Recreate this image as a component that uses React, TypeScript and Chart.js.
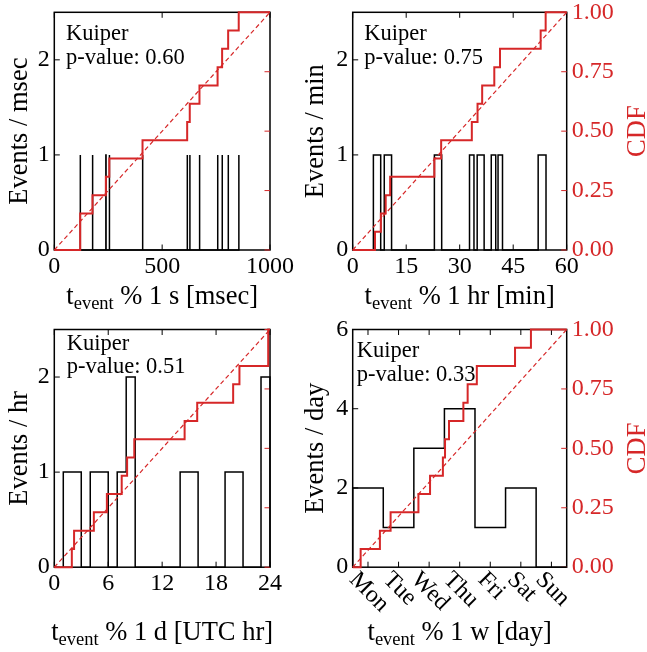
import React, { useEffect, useRef } from 'react';
import { Chart, registerables } from 'chart.js';
Chart.register(...registerables);

const FIG_W = 647;
const FIG_H = 652;
const RED = '#d62728';
const BLACK = '#000000';
const FONT = '"Liberation Serif", "Times New Roman", Times, serif';
const TICK_SIZE = 24;
const LABEL_SIZE = 26.5;
const NOTE_SIZE = 22.5;

// ---- Panel 1: t_event % 1 s [msec]
const msecEvents = [120, 120, 177, 239, 255, 409, 616, 628, 673, 757, 778, 806, 855];
const msecBinStart = [120, 177, 239, 255, 409, 616, 628, 673, 757, 778, 806, 855];
const msecBinEnd = [121, 178, 240, 256, 410, 617, 629, 674, 758, 779, 807, 856];
const msecBinCount = [1, 1, 1, 1, 1, 1, 1, 1, 1, 1, 1, 1];
const msecTicks = [0, 500, 1000];

// ---- Panel 2: t_event % 1 hr [min]
const minEvents = [6.25, 7.9, 9.25, 10.5, 22.9, 24.8, 33.4, 35.0, 36.3, 39.7, 41.3, 52.7, 54.1];
const minBinStart = [5.8, 8.85, 22.9, 32.75, 34.9, 38.85, 40.75, 52.0];
const minBinEnd = [7.85, 10.9, 24.95, 34.0, 36.85, 40.1, 42.0, 54.2];
const minBinCount = [1, 1, 1, 1, 1, 1, 1, 1];
const minTicks = [0, 15, 30, 45, 60];

// ---- Panel 3: t_event % 1 d [UTC hr]
const hrEvents = [1.95, 2.2, 4.4, 5.85, 7.5, 8.1, 8.9, 14.5, 15.9, 19.9, 20.6, 23.8, 23.8];
const hrBinStart = [1, 2, 4, 5, 7, 8, 14, 15, 19, 20, 23];
const hrBinEnd = [2, 3, 5, 6, 8, 9, 15, 16, 20, 21, 24];
const hrBinCount = [1, 1, 1, 1, 1, 2, 1, 1, 1, 1, 2];
const hrTicks = [0, 6, 12, 18, 24];

// ---- Panel 4: t_event % 1 w [day]
const dayEvents = [0.26, 0.89, 1.24, 2.15, 2.53, 2.95, 3.02, 3.15, 3.62, 3.76, 4.06, 5.31, 5.83];
const dayBinStart = [0, 1, 2, 3, 4, 5, 6];
const dayBinEnd = [1, 2, 3, 4, 5, 6, 7];
const dayBinCount = [2, 1, 3, 4, 1, 2, 0];
const dayTickPos = [0.5, 1.5, 2.5, 3.5, 4.5, 5.5, 6.5];
const dayLabels = ['Mon', 'Tue', 'Wed', 'Thu', 'Fri', 'Sat', 'Sun'];

const countTicks = [0, 1, 2];
const dayCountTicks = [0, 2, 4, 6];
const cdfTicks = [0, 0.25, 0.5, 0.75, 1];
const pValues = ['0.60', '0.75', '0.51', '0.33'];

type Area = { l: number; t: number; r: number; b: number };
type Panel = {
  area: Area;
  xMax: number;
  xTicks: number[];
  xLabels: boolean;
  yMax: number;
  yTicks: number[];
  cdfLabels: boolean;
  events: number[];
  binStart: number[];
  binEnd: number[];
  binCount: number[];
  yTitle: string;
  yTitleX: number;
  xTail: string;
  xBaseline: number;
  note: { x: number; y1: number; y2: number; p: string };
  weekdays?: string[];
};

const panels: Panel[] = [
  {
    area: { l: 54.3, t: 12.3, r: 270, b: 250 },
    xMax: 1000, xTicks: msecTicks, xLabels: true, yMax: 2.5, yTicks: countTicks, cdfLabels: false,
    events: msecEvents, binStart: msecBinStart, binEnd: msecBinEnd, binCount: msecBinCount,
    yTitle: 'Events / msec', yTitleX: 26.5, xTail: ' % 1 s [msec]', xBaseline: 304,
    note: { x: 66, y1: 39.5, y2: 63.5, p: pValues[0] },
  },
  {
    area: { l: 352.7, t: 12.3, r: 566.7, b: 250 },
    xMax: 60, xTicks: minTicks, xLabels: true, yMax: 2.5, yTicks: countTicks, cdfLabels: true,
    events: minEvents, binStart: minBinStart, binEnd: minBinEnd, binCount: minBinCount,
    yTitle: 'Events / min', yTitleX: 322.5, xTail: ' % 1 hr [min]', xBaseline: 304,
    note: { x: 364.3, y1: 39.5, y2: 63.5, p: pValues[1] },
  },
  {
    area: { l: 54.3, t: 329.5, r: 270, b: 567.2 },
    xMax: 24, xTicks: hrTicks, xLabels: true, yMax: 2.5, yTicks: countTicks, cdfLabels: false,
    events: hrEvents, binStart: hrBinStart, binEnd: hrBinEnd, binCount: hrBinCount,
    yTitle: 'Events / hr', yTitleX: 26.5, xTail: ' % 1 d [UTC hr]', xBaseline: 640,
    note: { x: 66.7, y1: 350, y2: 373, p: pValues[2] },
  },
  {
    area: { l: 352.7, t: 329.5, r: 566.7, b: 567.2 },
    xMax: 7, xTicks: dayTickPos, xLabels: false, yMax: 6, yTicks: dayCountTicks, cdfLabels: true,
    events: dayEvents, binStart: dayBinStart, binEnd: dayBinEnd, binCount: dayBinCount,
    yTitle: 'Events / day', yTitleX: 322.5, xTail: ' % 1 w [day]', xBaseline: 640,
    note: { x: 356.7, y1: 357.3, y2: 380.5, p: pValues[3] },
    weekdays: dayLabels,
  },
];

function histOutline(start: number[], end: number[], count: number[]) {
  const pts: { x: number; y: number }[] = [];
  let prevEnd: number | null = null;
  for (let i = 0; i < start.length; i++) {
    if (prevEnd === null) pts.push({ x: start[i], y: 0 });
    else if (start[i] !== prevEnd) {
      pts.push({ x: prevEnd, y: 0 });
      pts.push({ x: start[i], y: 0 });
    }
    pts.push({ x: start[i], y: count[i] });
    pts.push({ x: end[i], y: count[i] });
    prevEnd = end[i];
  }
  if (prevEnd !== null) pts.push({ x: prevEnd, y: 0 });
  return pts;
}

function ecdf(events: number[], xMax: number) {
  const n = events.length;
  const pts: { x: number; y: number }[] = [{ x: 0, y: 0 }];
  events.forEach((e, i) => {
    pts.push({ x: e, y: i / n });
    pts.push({ x: e, y: (i + 1) / n });
  });
  pts.push({ x: xMax, y: 1 });
  return pts;
}

const YW = 40;
const XH = 40;
const Y1W = 60;

function drawXTitle(ctx: CanvasRenderingContext2D, cx: number, baseline: number, tail: string) {
  const big = `${LABEL_SIZE}px ${FONT}`;
  const small = `${(LABEL_SIZE * 0.7).toFixed(1)}px ${FONT}`;
  ctx.font = big;
  const w1 = ctx.measureText('t').width;
  const w3 = ctx.measureText(tail).width;
  ctx.font = small;
  const w2 = ctx.measureText('event').width;
  let x = cx - (w1 + w2 + w3) / 2;
  ctx.textAlign = 'left';
  ctx.textBaseline = 'alphabetic';
  ctx.fillStyle = BLACK;
  ctx.font = big;
  ctx.fillText('t', x, baseline);
  x += w1;
  ctx.font = small;
  ctx.fillText('event', x, baseline + 5);
  x += w2;
  ctx.font = big;
  ctx.fillText(tail, x, baseline);
}

function drawRotated(ctx: CanvasRenderingContext2D, text: string, x: number, y: number, angle: number, color: string, size: number, baseline: CanvasTextBaseline) {
  ctx.save();
  ctx.translate(x, y);
  ctx.rotate(angle);
  ctx.font = `${size}px ${FONT}`;
  ctx.fillStyle = color;
  ctx.textAlign = 'center';
  ctx.textBaseline = baseline;
  ctx.fillText(text, 0, 0);
  ctx.restore();
}

function makePlugin(p: Panel) {
  return {
    id: 'panelDecor',
    beforeDatasetsDraw(chart: any) {
      const { ctx, chartArea: a, scales } = chart;
      const TL = 5.5;
      ctx.save();
      ctx.strokeStyle = BLACK;
      ctx.lineWidth = 1.5;
      ctx.strokeRect(a.left, a.top, a.right - a.left, a.bottom - a.top);
      ctx.lineWidth = 1;
      ctx.beginPath();
      for (const v of p.xTicks) {
        const px = scales.x.getPixelForValue(v);
        ctx.moveTo(px, a.bottom);
        ctx.lineTo(px, a.bottom - TL);
        ctx.moveTo(px, a.top);
        ctx.lineTo(px, a.top + TL);
      }
      for (const v of p.yTicks) {
        const py = scales.y.getPixelForValue(v);
        ctx.moveTo(a.left, py);
        ctx.lineTo(a.left + TL, py);
      }
      ctx.stroke();
      ctx.strokeStyle = RED;
      ctx.beginPath();
      for (const v of cdfTicks) {
        const py = scales.y1.getPixelForValue(v);
        ctx.moveTo(a.right, py);
        ctx.lineTo(a.right - TL, py);
      }
      ctx.stroke();
      ctx.restore();
    },
    afterDatasetsDraw(chart: any) {
      const { ctx, chartArea: a, scales } = chart;
      ctx.save();
      ctx.font = `${NOTE_SIZE}px ${FONT}`;
      ctx.fillStyle = BLACK;
      ctx.textAlign = 'left';
      ctx.textBaseline = 'alphabetic';
      ctx.fillText('Kuiper', p.note.x, p.note.y1);
      ctx.fillText(`p-value: ${p.note.p}`, p.note.x, p.note.y2);
      const cy = (a.top + a.bottom) / 2;
      drawRotated(ctx, p.yTitle, p.yTitleX, cy, -Math.PI / 2, BLACK, LABEL_SIZE, 'alphabetic');
      if (p.cdfLabels) drawRotated(ctx, 'CDF', 645, cy, -Math.PI / 2, RED, LABEL_SIZE, 'alphabetic');
      drawXTitle(ctx, (a.left + a.right) / 2, p.xBaseline, p.xTail);
      if (p.weekdays) {
        ctx.font = `${TICK_SIZE}px ${FONT}`;
        p.weekdays.forEach((lab, i) => {
          const w = ctx.measureText(lab).width;
          const half = (w + 0.7 * TICK_SIZE) * 0.7071 / 2;
          const px = scales.x.getPixelForValue(p.xTicks[i]);
          drawRotated(ctx, lab, px + 1, a.bottom + 3 + half, Math.PI / 4, BLACK, TICK_SIZE, 'middle');
        });
      }
      ctx.restore();
    },
  };
}

function zeroPad(s: any) {
  s.paddingLeft = 0;
  s.paddingRight = 0;
  s.paddingTop = 0;
  s.paddingBottom = 0;
}

function makeConfig(p: Panel): any {
  const fontTick = { family: FONT, size: TICK_SIZE };
  return {
    type: 'scatter',
    data: {
      datasets: [
        {
          data: ecdf(p.events, p.xMax),
          yAxisID: 'y1',
          showLine: true,
          borderColor: RED,
          borderWidth: 2,
          pointRadius: 0,
          tension: 0,
          fill: false,
          clip: false,
          order: 0,
        },
        {
          data: [{ x: 0, y: 0 }, { x: p.xMax, y: 1 }],
          yAxisID: 'y1',
          showLine: true,
          borderColor: RED,
          borderWidth: 1.2,
          borderDash: [4.5, 3],
          pointRadius: 0,
          fill: false,
          clip: false,
          order: 1,
        },
        {
          data: histOutline(p.binStart, p.binEnd, p.binCount),
          yAxisID: 'y',
          showLine: true,
          borderColor: BLACK,
          borderWidth: 1.5,
          pointRadius: 0,
          tension: 0,
          fill: false,
          clip: false,
          order: 2,
        },
      ],
    },
    options: {
      animation: false,
      responsive: false,
      events: [],
      layout: {
        autoPadding: false,
        padding: {
          left: p.area.l - YW,
          right: FIG_W - p.area.r - Y1W,
          top: p.area.t,
          bottom: FIG_H - p.area.b - XH,
        },
      },
      plugins: { legend: { display: false }, tooltip: { enabled: false } },
      scales: {
        x: {
          type: 'linear',
          position: 'bottom',
          min: 0,
          max: p.xMax,
          afterBuildTicks: (s: any) => { s.ticks = p.xTicks.map((v) => ({ value: v })); },
          ticks: {
            display: p.xLabels,
            font: fontTick,
            color: BLACK,
            padding: 2.5,
            maxRotation: 0,
            minRotation: 0,
            autoSkip: false,
            callback: (v: number) => String(v),
          },
          grid: { display: false, drawTicks: false },
          border: { display: false },
          afterFit: (s: any) => { s.height = XH; zeroPad(s); },
        },
        y: {
          type: 'linear',
          position: 'left',
          min: 0,
          max: p.yMax,
          afterBuildTicks: (s: any) => { s.ticks = p.yTicks.map((v) => ({ value: v })); },
          ticks: { font: fontTick, color: BLACK, padding: 4.5, callback: (v: number) => String(v) },
          grid: { display: false, drawTicks: false },
          border: { display: false },
          afterFit: (s: any) => { s.width = YW; zeroPad(s); },
        },
        y1: {
          type: 'linear',
          position: 'right',
          min: 0,
          max: 1,
          afterBuildTicks: (s: any) => { s.ticks = cdfTicks.map((v) => ({ value: v })); },
          ticks: {
            display: p.cdfLabels,
            font: fontTick,
            color: RED,
            padding: 5,
            callback: (v: number) => v.toFixed(2),
          },
          grid: { display: false, drawTicks: false, drawOnChartArea: false },
          border: { display: false },
          afterFit: (s: any) => { s.width = Y1W; zeroPad(s); },
        },
      },
    },
    plugins: [makePlugin(p)],
  };
}

function PanelCanvas({ panel }: { panel: Panel }) {
  const ref = useRef<HTMLCanvasElement | null>(null);
  useEffect(() => {
    if (!ref.current) return;
    const chart = new Chart(ref.current, makeConfig(panel));
    return () => chart.destroy();
  }, [panel]);
  return (
    <canvas
      ref={ref}
      width={FIG_W}
      height={FIG_H}
      style={{ position: 'absolute', left: 0, top: 0, width: FIG_W, height: FIG_H, display: 'block' }}
    />
  );
}

export default function App() {
  return (
    <div style={{ position: 'absolute', left: 0, top: 0, width: FIG_W, height: FIG_H, background: '#ffffff' }}>
      {panels.map((p, i) => (
        <PanelCanvas key={i} panel={p} />
      ))}
    </div>
  );
}
